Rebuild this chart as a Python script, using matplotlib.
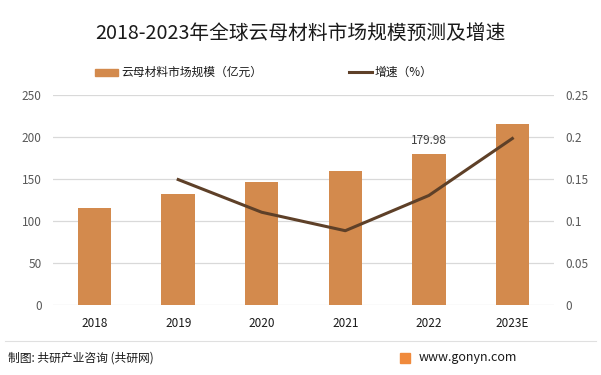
import matplotlib
matplotlib.use("Agg")
import matplotlib.pyplot as plt
from matplotlib.patches import Rectangle
from matplotlib.lines import Line2D

plt.rcParams['font.family'] = ['Noto Sans CJK SC', 'DejaVu Sans']

categories = ['2018', '2019', '2020', '2021', '2022', '2023E']
market_size = [114.5, 131.2, 145.6, 158.7, 179.98, 215.0]
growth_years = ['2019', '2020', '2021', '2022', '2023E']
growth_rate = [0.149, 0.110, 0.088, 0.130, 0.198]
left_ticks = [0, 50, 100, 150, 200, 250]
right_ticks = [0, 0.05, 0.1, 0.15, 0.2, 0.25]
right_tick_labels = ['0', '0.05', '0.1', '0.15', '0.2', '0.25']

bar_color = '#D38A4D'
line_color = '#5E4028'
grid_color = '#D9D9D9'
tick_color = '#595959'

fig = plt.figure(figsize=(6.01, 3.75), dpi=100)
ax = fig.add_axes([0.088, 0.188, 0.834, 0.559])
x = list(range(len(categories)))
ax.bar(x, market_size, width=0.4, color=bar_color, zorder=3)
ax.set_xlim(-0.5, len(categories) - 0.5)
ax.set_ylim(0, 250)
ax.set_yticks(left_ticks)
ax.set_yticklabels([str(t) for t in left_ticks])
ax.set_xticks(x)
ax.set_xticklabels(categories)
ax.grid(axis='y', color=grid_color, linewidth=0.9, zorder=0)
for s in ax.spines.values():
    s.set_visible(False)
ax.tick_params(axis='both', length=0)
ax.tick_params(axis='y', colors=tick_color, labelsize=8.5, pad=8)
ax.tick_params(axis='x', colors='#1a1a1a', labelsize=8.5, pad=9)

idx_2022 = categories.index('2022')
ax.annotate(f'{market_size[idx_2022]:.2f}', (idx_2022, market_size[idx_2022]),
            xytext=(0, 5), textcoords='offset points', ha='center', va='bottom',
            fontsize=8.5, color='#404040', zorder=5)

ax2 = ax.twinx()
gx = [categories.index(c) for c in growth_years]
ax2.plot(gx, growth_rate, color=line_color, linewidth=2.2, zorder=4)
ax2.set_ylim(0, 0.25)
ax2.set_yticks(right_ticks)
ax2.set_yticklabels(right_tick_labels)
for s in ax2.spines.values():
    s.set_visible(False)
ax2.tick_params(axis='y', length=0, colors=tick_color, labelsize=8.5, pad=8)

# Title
fig.text(0.5, 0.912, '2018-2023年全球云母材料市场规模预测及增速', ha='center', va='center',
         fontsize=14.2, color='#1a1a1a')

# Legend
fig.patches.append(Rectangle((95 / 601, 1 - 76 / 375), 23 / 601, 7 / 375,
                             transform=fig.transFigure, color=bar_color))
fig.text(121 / 601, 1 - 72 / 375, '云母材料市场规模（亿元）', ha='left', va='center',
         fontsize=8.5, color='#1a1a1a')
fig.lines.append(Line2D([349 / 601, 372 / 601], [1 - 72 / 375, 1 - 72 / 375],
                        transform=fig.transFigure, color=line_color, linewidth=2.2))
fig.text(375 / 601, 1 - 72 / 375, '增速（%）', ha='left', va='center',
         fontsize=8.5, color='#1a1a1a')

# Footer
fig.lines.append(Line2D([5 / 601, 596 / 601], [1 - 341 / 375, 1 - 341 / 375],
                        transform=fig.transFigure, color='#E0E0E0', linewidth=0.8))
fig.text(8 / 601, 1 - 358 / 375, '制图: 共研产业咨询 (共研网)', ha='left', va='center',
         fontsize=8.5, color='#1a1a1a')
fig.patches.append(Rectangle((400 / 601, 1 - 363 / 375), 10 / 601, 10 / 375,
                             transform=fig.transFigure, color='#F08A3C'))
fig.text(419 / 601, 1 - 358 / 375, 'www.gonyn.com', ha='left', va='center',
         fontsize=9, color='#1a1a1a')

fig.savefig('out.png', dpi=100)
